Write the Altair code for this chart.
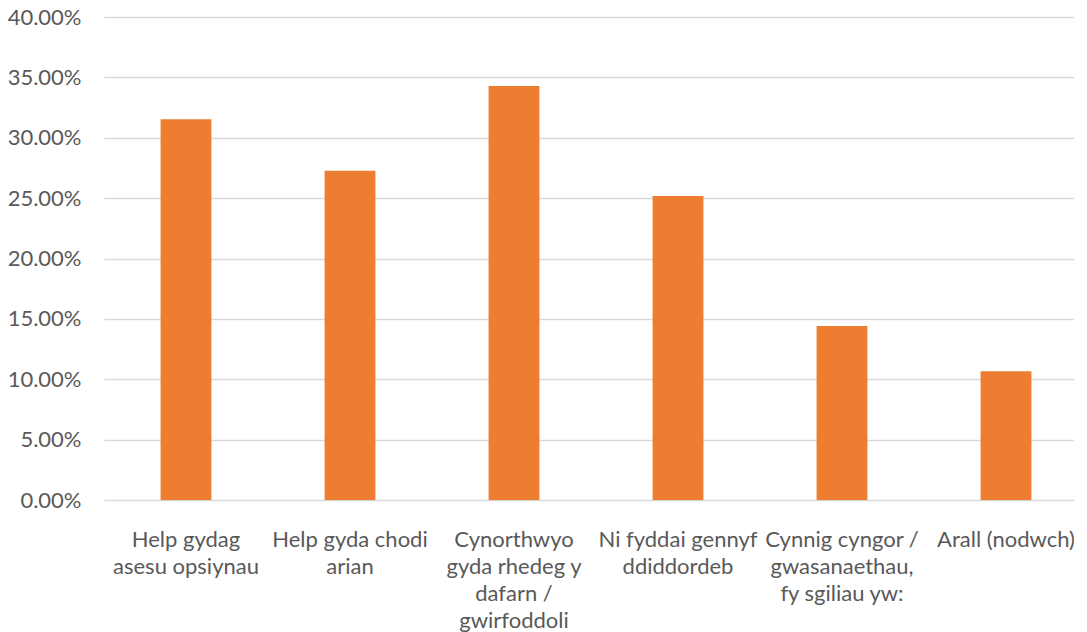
import altair as alt
import pandas as pd

label_lines = [
    ["Help gydag", "asesu opsiynau"],
    ["Help gyda chodi", "arian"],
    ["Cynorthwyo", "gyda rhedeg y", "dafarn /", "gwirfoddoli"],
    ["Ni fyddai gennyf", "ddiddordeb"],
    ["Cynnig cyngor /", "gwasanaethau,", "fy sgiliau yw:"],
    ["Arall (nodwch)"],
]
values = [0.3153, 0.2727, 0.3429, 0.2518, 0.1441, 0.1066]
y_ticks = [0, 0.05, 0.10, 0.15, 0.20, 0.25, 0.30, 0.35, 0.40]

categories = ["|".join(l) for l in label_lines]
df = pd.DataFrame({"category": categories, "value": values})

FONT = "Lato"
GRAY = "#595959"

chart = (
    alt.Chart(df)
    .mark_bar(color="#ED7D31")
    .encode(
        x=alt.X(
            "category:N",
            sort=None,
            title=None,
            scale=alt.Scale(paddingInner=0.69, paddingOuter=0.345),
            axis=alt.Axis(
                labelAngle=0,
                labelLimit=0,
                labelFont=FONT,
                labelFontSize=22,
                labelColor=GRAY,
                labelLineHeight=27,
                labelBaseline="top",
                labelPadding=29,
                labelExpr="split(datum.label, '|')",
                ticks=False,
                tickSize=0,
                domain=False,
                grid=False,
            ),
        ),
        y=alt.Y(
            "value:Q",
            title=None,
            scale=alt.Scale(domain=[0, 0.4], nice=False),
            axis=alt.Axis(
                values=y_ticks,
                format=".2%",
                labelFont=FONT,
                labelFontSize=22,
                labelColor=GRAY,
                labelPadding=23,
                ticks=False,
                tickSize=0,
                domain=False,
                grid=True,
                gridColor="#D9D9D9",
                gridWidth=1.5,
            ),
        ),
    )
    .properties(
        width=984,
        height=483,
        autosize=alt.AutoSizeParams(type="none"),
        padding={"left": 96, "top": 9, "right": -14, "bottom": 140},
    )
    .configure_view(stroke=None)
)

chart.save("out.html", embed_options={"renderer": "svg", "actions": False})
